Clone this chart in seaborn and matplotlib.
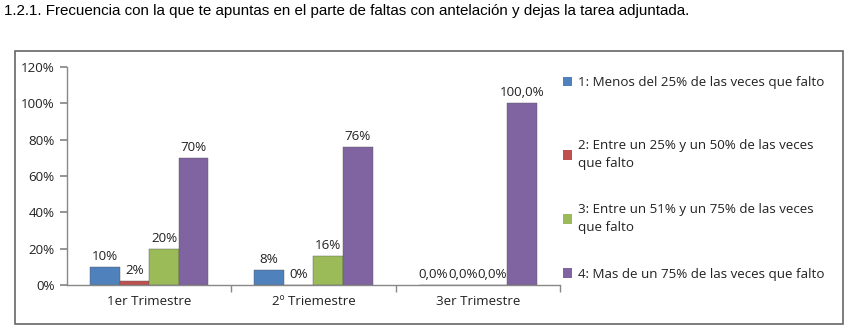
import matplotlib
matplotlib.use("Agg")
import matplotlib.pyplot as plt
import seaborn as sns
import pandas as pd
from matplotlib.patches import Rectangle

title = "1.2.1. Frecuencia con la que te apuntas en el parte de faltas con antelación y dejas la tarea adjuntada."
categories = ["1er Trimestre", "2º Triemestre", "3er Trimestre"]
series = ["1: Menos del 25% de las veces que falto",
          "2: Entre un 25% y un 50% de las veces\nque falto",
          "3: Entre un 51% y un 75% de las veces\nque falto",
          "4: Mas de un 75% de las veces que falto"]
s1 = [0.10, 0.08, 0.0]
s2 = [0.02, 0.0, 0.0]
s3 = [0.20, 0.16, 0.0]
s4 = [0.70, 0.76, 1.0]
labels1 = ["10%", "8%", "0,0%"]
labels2 = ["2%", "0%", "0,0%"]
labels3 = ["20%", "16%", "0,0%"]
labels4 = ["70%", "76%", "100,0%"]
yticks = [0, 0.2, 0.4, 0.6, 0.8, 1.0, 1.2]
colors = ["#4F81BD", "#C0504D", "#9BBB59", "#8064A2"]

rows = []
for name, vals in zip(series, [s1, s2, s3, s4]):
    for c, v in zip(categories, vals):
        rows.append({"cat": c, "serie": name, "val": v})
df = pd.DataFrame(rows)

sns.set_theme(style="white")
plt.rcParams['font.family'] = ['Open Sans', 'DejaVu Sans']
FS = 9.6

fig = plt.figure(figsize=(8.53, 3.29), dpi=100)
ax = fig.add_axes([67/853, 1-285/329, (560-67)/853, (285-67)/329])

sns.barplot(data=df, x="cat", y="val", hue="serie", palette=colors,
            width=0.72, gap=0, ax=ax, legend=True, saturation=1,
            edgecolor="none")
for cont, labs in zip(ax.containers, [labels1, labels2, labels3, labels4]):
    for b in cont:
        b.set_edgecolor("#555555")
        b.set_linewidth(0.3)
    ax.bar_label(cont, labels=labs, padding=3, fontsize=FS, color="#222222")

ax.set_ylim(0, 1.2)
ax.set_xlim(-0.5, 2.5)
ax.set_yticks(yticks)
ax.set_yticklabels([f"{int(round(t*100))}%" for t in yticks], fontsize=FS, color="#222222")
ax.set_xticks(range(len(categories)))
ax.set_xticklabels(categories, fontsize=FS, color="#222222")
ax.set_xticks([0.5, 1.5, 2.5], minor=True)
ax.tick_params(axis="x", which="major", length=0, pad=7)
ax.tick_params(axis="x", which="minor", length=5, color="#888888", direction="out", bottom=True)
ax.tick_params(axis="y", length=5, color="#888888", direction="out", left=True, pad=4)
ax.set_xlabel("")
ax.set_ylabel("")
for s in ["top", "right"]:
    ax.spines[s].set_visible(False)
for s in ["left", "bottom"]:
    ax.spines[s].set_color("#888888")
    ax.spines[s].set_linewidth(1.0)

handles, labs = ax.get_legend_handles_labels()
ax.get_legend().remove()
common = dict(frameon=False, fontsize=FS, handlelength=0.7, handleheight=0.7,
              handletextpad=0.45, borderaxespad=0, borderpad=0,
              bbox_transform=fig.transFigure, loc="upper left")
leg1 = ax.legend(handles[:1], labs[:1], bbox_to_anchor=(563/853, 1-76/329), **common)
ax.add_artist(leg1)
leg2 = ax.legend(handles[1:], labs[1:], bbox_to_anchor=(563/853, 1-139/329),
                 labelspacing=2.5, **common)
for lg in (leg1, leg2):
    for t in lg.get_texts():
        t.set_color("#222222")
        t.set_linespacing(1.5)

fig.text(4/853, 1-11/329, title, fontsize=10.9, family="Liberation Sans",
         va="center", ha="left", color="#000000")
fig.patches.append(Rectangle((15/853, 1-324/329), (843-15)/853, (324-51)/329,
                             transform=fig.transFigure, fill=False,
                             edgecolor="#666666", linewidth=1.2))

fig.savefig("out.png", dpi=100)
